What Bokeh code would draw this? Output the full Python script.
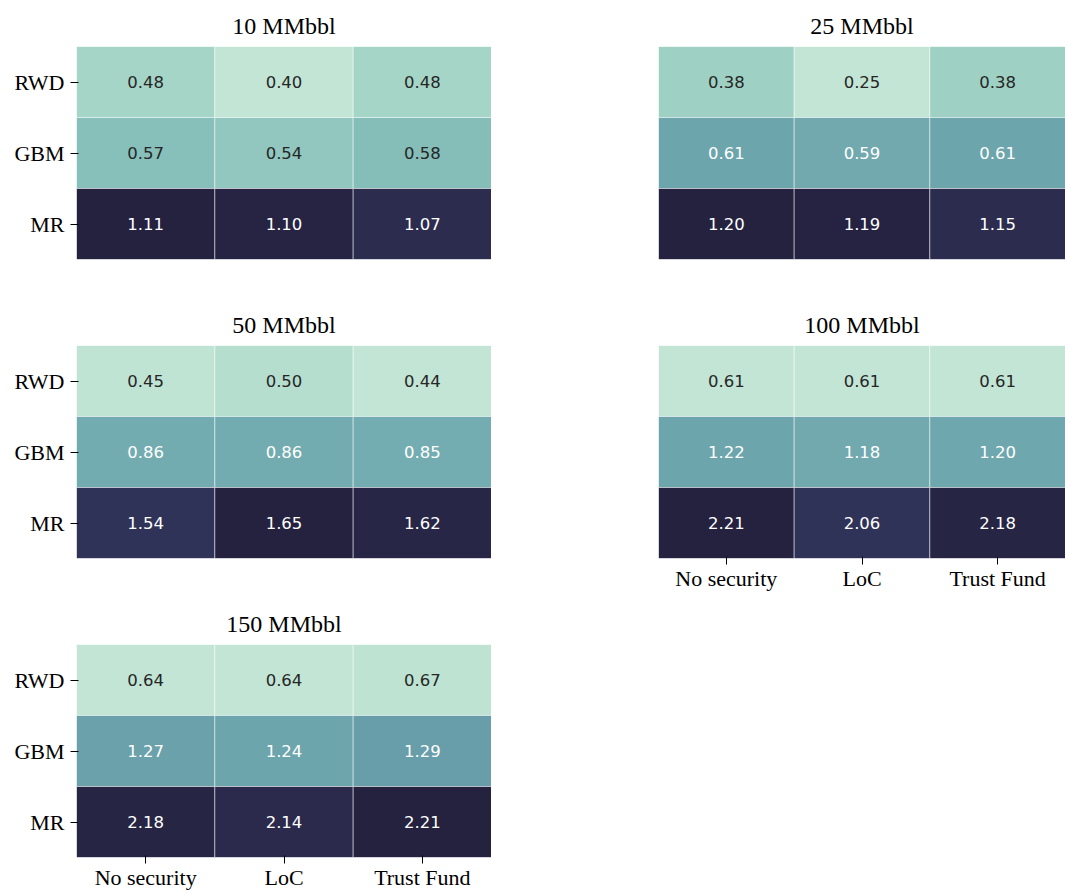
import numpy as np
from bokeh.plotting import figure
from bokeh.models import ColumnDataSource, LinearColorMapper
from bokeh.layouts import column, row
from bokeh.core.properties import value
from bokeh.embed import file_html
from bokeh.resources import INLINE

# ---- data ----
securities = ["No security", "LoC", "Trust Fund"]
models = ["RWD", "GBM", "MR"]
titles = ["10 MMbbl", "25 MMbbl", "50 MMbbl", "100 MMbbl", "150 MMbbl"]

# rows: RWD, GBM, MR ; columns: No security, LoC, Trust Fund
v10 = [[0.48, 0.40, 0.48], [0.57, 0.54, 0.58], [1.11, 1.10, 1.07]]
v25 = [[0.38, 0.25, 0.38], [0.61, 0.59, 0.61], [1.20, 1.19, 1.15]]
v50 = [[0.45, 0.50, 0.44], [0.86, 0.86, 0.85], [1.54, 1.65, 1.62]]
v100 = [[0.61, 0.61, 0.61], [1.22, 1.18, 1.20], [2.21, 2.06, 2.18]]
v150 = [[0.64, 0.64, 0.67], [1.27, 1.24, 1.29], [2.18, 2.14, 2.21]]


# ---- colour map (cubehelix, light -> dark) ----
def cubehelix(x, start=0.2, rot=-0.4, gamma=1.0, hue=0.8):
    xg = x ** gamma
    a = hue * xg * (1 - xg) / 2
    phi = 2 * np.pi * (start / 3 + rot * x)
    r = xg + a * (-0.14861 * np.cos(phi) + 1.78277 * np.sin(phi))
    g = xg + a * (-0.29227 * np.cos(phi) - 0.90649 * np.sin(phi))
    b = xg + a * (1.97294 * np.cos(phi))
    return np.clip(np.stack([r, g, b], axis=-1), 0, 1)


rgb = cubehelix(np.linspace(0.85, 0.15, 256))
palette = ["#%02x%02x%02x" % tuple(int(round(c * 255)) for c in col) for col in rgb]


def lum(c):
    c = np.where(c <= 0.03928, c / 12.92, ((c + 0.055) / 1.055) ** 2.4)
    return 0.2126 * c[0] + 0.7152 * c[1] + 0.0722 * c[2]


SERIF = "Liberation Serif"


def make_panel(vals, title, left_axis, bottom_axis, left_col):
    flat = [v for r in vals for v in r]
    lo, hi = min(flat), max(flat)
    mapper = LinearColorMapper(palette=palette, low=lo, high=hi)
    xcat, ycat, val, lab, tc = [], [], [], [], []
    for i, m in enumerate(models):
        for j, s in enumerate(securities):
            v = vals[i][j]
            xcat.append(s)
            ycat.append(m)
            val.append(v)
            lab.append("%.2f" % v)
            idx = int(round((v - lo) / (hi - lo) * 255))
            tc.append("#262626" if lum(rgb[idx]) > 0.408 else "#ffffff")
    src = ColumnDataSource(dict(x=xcat, y=ycat, val=val, lab=lab, tc=tc))
    p = figure(
        x_range=securities, y_range=models[::-1],
        frame_width=415 if left_col else 407, frame_height=213,
        min_border_left=76 if left_col else 167, min_border_right=0,
        min_border_top=46, min_border_bottom=31 if (bottom_axis and left_col) else 40,
        output_backend="svg", toolbar_location=None, tools="",
        title=title,
    )
    p.rect(x="x", y="y", width=1, height=1, source=src,
           fill_color={"field": "val", "transform": mapper},
           line_color="white", line_alpha=0.6, line_width=0.8)
    p.text(x="x", y="y", text="lab", source=src, text_align="center",
           text_baseline="middle", text_font=value("DejaVu Sans"),
           text_font_size="16.5px", text_color="tc")
    p.title.text_font = SERIF
    p.title.text_font_size = "24px"
    p.title.text_font_style = "normal"
    p.title.align = "center"
    p.title.text_color = "#000000"
    p.title.offset = 0
    p.title.standoff = 16
    p.outline_line_color = None
    p.grid.visible = False
    for ax in (p.xaxis[0], p.yaxis[0]):
        ax.axis_line_color = None
        ax.major_label_text_font = SERIF
        ax.major_label_text_font_size = "22px"
        ax.major_label_text_color = "#000000"
    p.yaxis.major_label_standoff = 6
    p.xaxis.major_label_standoff = 1
    p.xaxis.visible = bottom_axis
    p.yaxis.visible = left_axis
    return p


p1 = make_panel(v10, titles[0], True, False, True)
p2 = make_panel(v25, titles[1], False, False, False)
p3 = make_panel(v50, titles[2], True, False, True)
p4 = make_panel(v100, titles[3], False, True, False)
p5 = make_panel(v150, titles[4], True, True, True)

layout = column(row(p1, p2, spacing=0), row(p3, p4, spacing=0), row(p5, spacing=0), spacing=0)

open("out.html", "w").write(file_html(layout, INLINE))
